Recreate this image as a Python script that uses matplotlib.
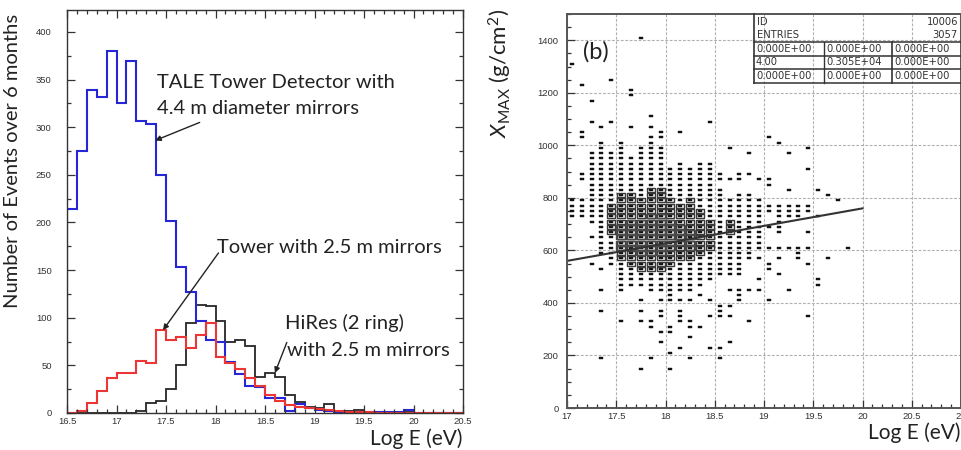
import matplotlib
matplotlib.use('Agg')
import matplotlib.pyplot as plt
import numpy as np
from matplotlib.ticker import MultipleLocator, FuncFormatter
from matplotlib.lines import Line2D

plt.rcParams['font.family'] = ['Lato', 'DejaVu Sans']
plt.rcParams['mathtext.fontset'] = 'custom'
plt.rcParams['mathtext.rm'] = 'Lato'
plt.rcParams['mathtext.it'] = 'Lato:italic'

# ---------------- left panel data (bins of 0.1 in log E from 16.5) ----------------
bin_start = 16.5
bin_width = 0.1
tale_44 = [214, 275, 339, 332, 380, 325, 369, 306, 303, 250, 202, 153, 127, 97, 77, 74,
           54, 41, 28, 27, 16, 16, 2, 9, 5, 3, 2, 1, 1, 1, 1, 1, 1, 1, 3, 0, 0, 0, 0, 0]
tower_25 = [0, 2, 10, 23, 37, 42, 42, 55, 52, 87, 77, 80, 68, 82, 94, 59,
            53, 46, 37, 28, 19, 13, 8, 6, 5, 4, 3, 2, 1, 1, 1, 0, 0, 0, 0, 0, 0, 0, 0, 0]
hires_25 = [0, 0, 0, 0, 0, 0, 0, 2, 10, 13, 25, 50, 94, 113, 112, 97,
            74, 77, 70, 38, 42, 38, 19, 12, 6, 5, 9, 2, 2, 3, 1, 0, 0, 0, 2, 0, 0, 0, 0, 0]

label_tale = ["TALE Tower Detector with", "4.4 m diameter mirrors"]
label_tower = "Tower with 2.5 m mirrors"
label_hires = ["HiRes (2 ring)", "with 2.5 m mirrors"]

# ---------------- right panel data (Xmax vs log E, boxes per 0.1 x 20 g/cm2 cell) ----------------
col_x = [17.05, 17.15, 17.25, 17.35, 17.45, 17.55, 17.65, 17.75, 17.85, 17.95,
         18.05, 18.15, 18.25, 18.35, 18.45, 18.55, 18.65, 18.75, 18.85, 18.95,
         19.05, 19.15, 19.25, 19.35, 19.45, 19.55, 19.65, 19.75, 19.85]
dense_lo = [0, 730, 710, 590, 550, 470, 470, 470, 450, 450,
            450, 450, 470, 470, 490, 510, 510, 510, 570, 610,
            0, 0, 0, 0, 0, 0, 0, 0, 0]
dense_hi = [0, 790, 970, 970, 970, 1010, 950, 990, 1010, 990,
            910, 930, 910, 930, 930, 830, 790, 810, 810, 790,
            0, 0, 0, 0, 0, 0, 0, 0, 0]
box_lo = [0, 0, 0, 0, 670, 570, 550, 530, 530, 530,
          550, 570, 570, 590, 610, 0, 670, 0, 0, 0,
          0, 0, 0, 0, 0, 0, 0, 0, 0]
box_hi = [0, 0, 0, 0, 770, 810, 810, 790, 830, 830,
          790, 770, 790, 750, 710, 0, 710, 0, 0, 0,
          0, 0, 0, 0, 0, 0, 0, 0, 0]
big_lo = [0, 0, 0, 0, 0, 610, 610, 590, 590, 590,
          610, 630, 610, 0, 0, 0, 0, 0, 0, 0,
          0, 0, 0, 0, 0, 0, 0, 0, 0]
big_hi = [0, 0, 0, 0, 0, 690, 710, 710, 730, 730,
          710, 690, 670, 0, 0, 0, 0, 0, 0, 0,
          0, 0, 0, 0, 0, 0, 0, 0, 0]
sparse_y = [
    [1310, 790, 770, 750, 730],
    [1230, 1050, 1030, 890, 870],
    [1170, 1090, 650, 550],
    [1070, 1010, 990, 530, 450, 370, 190],
    [1250, 1090],
    [450, 330],
    [1210, 1190, 1070],
    [1410, 410, 370, 330, 150],
    [1110, 1070, 1030, 330, 310, 190],
    [1050, 1030, 410, 370, 350, 290, 250],
    [430, 410, 310, 290, 210, 150],
    [1050, 410, 370, 350, 330, 230],
    [450, 410, 330, 310, 270, 190],
    [430, 310],
    [1090, 410, 350, 230],
    [890, 870, 390, 370, 350, 230, 190],
    [990, 870, 450, 390, 350, 250],
    [890, 870, 450, 430, 410],
    [970, 890, 450, 330],
    [870, 570, 490, 450],
    [1030, 870, 850, 770, 750, 690, 610, 550, 530, 410],
    [1010, 770, 750, 730, 710, 690, 670, 610, 570, 510],
    [970, 830, 770, 750, 730, 610, 450],
    [770, 750, 730, 610, 590, 570],
    [990, 910, 770, 750, 670, 610, 550, 350],
    [830, 730, 490, 470],
    [810, 570],
    [790],
    [610],
]
cell_h = 20
fit_x = [17.0, 20.0]
fit_y = [560, 760]

stats_top = [("ID", "10006"), ("ENTRIES", "3057")]
stats_table = [["0.000E+00", "0.000E+00", "0.000E+00"],
               ["4.00", "0.305E+04", "0.000E+00"],
               ["0.000E+00", "0.000E+00", "0.000E+00"]]

# ---------------- figure ----------------
W, H = 962, 450
fig = plt.figure(figsize=(W / 100, H / 100), dpi=100)


def fx(px):
    return px / W


def fy(py):
    return 1 - py / H


fmt = FuncFormatter(lambda v, p: '%g' % v)

# ----- left panel -----
ax1 = fig.add_axes([fx(67), fy(413), fx(463) - fx(67), fy(10) - fy(413)])
edges = bin_start + bin_width * np.arange(len(tale_44) + 1)
ax1.stairs(hires_25, edges, color='#262626', lw=1.3, baseline=0)
ax1.stairs(tale_44, edges, color='#2626d6', lw=1.5, baseline=0)
ax1.stairs(tower_25, edges, color='#ec3535', lw=1.5, baseline=0)
ax1.set_xlim(16.5, 20.5)
ax1.set_ylim(0, 423)
ax1.xaxis.set_major_locator(MultipleLocator(0.5))
ax1.xaxis.set_minor_locator(MultipleLocator(0.1))
ax1.yaxis.set_major_locator(MultipleLocator(50))
ax1.yaxis.set_minor_locator(MultipleLocator(25))
ax1.xaxis.set_major_formatter(fmt)
ax1.tick_params(which='both', direction='in', top=True, right=True, colors='#333',
                labelsize=6.8, width=0.9)
ax1.tick_params(which='major', length=6)
ax1.tick_params(which='minor', length=3)
ax1.tick_params(axis='y', pad=11)
ax1.tick_params(axis='x', pad=3)
for lab in ax1.get_xticklabels() + ax1.get_yticklabels():
    lab.set_family('Liberation Sans')
for s in ax1.spines.values():
    s.set_color('#333')
    s.set_linewidth(1.0)

ax1.set_ylabel("Number of Events over 6 months", fontsize=14.5, color='#222')
ax1.yaxis.set_label_coords(-0.115, 0.625)
fig.text(fx(463), fy(439), "Log E (eV)", ha='right', va='center', fontsize=15, color='#222')

arrow = dict(arrowstyle='-|>', color='#222', lw=1.0, mutation_scale=8, shrinkA=0, shrinkB=0)
ax1.text(17.41, 347, label_tale[0], fontsize=14.5, va='center', ha='left', color='#222')
ax1.text(17.41, 320, label_tale[1], fontsize=14.5, va='center', ha='left', color='#222')
ax1.annotate('', xy=(17.39, 286), xytext=(17.84, 305), arrowprops=arrow)
ax1.text(18.02, 174, label_tower, fontsize=14.5, va='center', ha='left', color='#222')
ax1.annotate('', xy=(17.47, 87), xytext=(18.03, 168), arrowprops=arrow)
ax1.text(18.70, 94, label_hires[0], fontsize=14.5, va='center', ha='left', color='#222')
ax1.text(18.72, 66, label_hires[1], fontsize=14.5, va='center', ha='left', color='#222')
ax1.annotate('', xy=(18.60, 42), xytext=(18.72, 74), arrowprops=arrow)

# ----- right panel -----
ax2 = fig.add_axes([fx(567), fy(408), fx(961) - fx(567), fy(14) - fy(408)])
ax2.set_xlim(17, 21)
ax2.set_ylim(0, 1500)
ax2.xaxis.set_major_locator(MultipleLocator(0.5))
ax2.xaxis.set_minor_locator(MultipleLocator(0.1))
ax2.yaxis.set_major_locator(MultipleLocator(200))
ax2.yaxis.set_minor_locator(MultipleLocator(50))
ax2.xaxis.set_major_formatter(fmt)
ax2.grid(True, which='major', color='#b0b0b0', ls=(0, (2.5, 1.5)), lw=0.8)
ax2.set_axisbelow(True)
ax2.tick_params(which='both', direction='in', colors='#333', labelsize=6.8, width=0.9)
ax2.tick_params(which='major', length=6)
ax2.tick_params(which='minor', length=3)
ax2.tick_params(axis='y', pad=6)
ax2.tick_params(axis='x', pad=3)
for lab in ax2.get_xticklabels() + ax2.get_yticklabels():
    lab.set_family('Liberation Sans')
for s in ax2.spines.values():
    s.set_color('#555')
    s.set_linewidth(1.4)

rect_marker = [(-1, -0.6), (1, -0.6), (1, 0.6), (-1, 0.6), (-1, -0.6)]
box_marker = [(-1, -0.45), (1, -0.45), (1, 0.45), (-1, 0.45), (-1, -0.45)]

dx, dy = [], []
bx, by = [], []
gx, gy = [], []
for i, cx in enumerate(col_x):
    if dense_hi[i] > 0:
        for y in range(dense_lo[i], dense_hi[i] + 1, cell_h):
            dx.append(cx)
            dy.append(y)
    if box_hi[i] > 0:
        for y in range(box_lo[i], box_hi[i] + 1, cell_h):
            bx.append(cx)
            by.append(y)
    if big_hi[i] > 0:
        for y in range(big_lo[i], big_hi[i] + 1, cell_h):
            gx.append(cx)
            gy.append(y)
    for y in sparse_y[i]:
        dx.append(cx)
        dy.append(y)

ax2.plot(dx, dy, ls='none', marker=rect_marker, ms=2.4, color='#111', mew=0.3)
ax2.plot(bx, by, ls='none', marker=box_marker, ms=5.4, mfc='none', mec='#3a3a3a', mew=1.0)
ax2.plot(gx, gy, ls='none', marker=box_marker, ms=7.2, mfc='none', mec='#4a4a4a', mew=1.0)
ax2.plot(fit_x, fit_y, color='#333', lw=1.5)

ax2.set_ylabel(r'$X_{\mathrm{MAX}}\ \mathrm{(g/cm^{2})}$', fontsize=16, color='#222')
ax2.yaxis.set_label_coords(-0.135, 0.85)
ax2.text(0.04, 0.905, "(b)", transform=ax2.transAxes, fontsize=17, color='#222',
         ha='left', va='center')
fig.text(fx(961), fy(433), "Log E (eV)", ha='right', va='center', fontsize=15, color='#222')


# stats box
def hline(x0, x1, y, lw=1.0):
    fig.add_artist(Line2D([fx(x0), fx(x1)], [fy(y), fy(y)], color='#333', lw=lw))


def vline(x, y0, y1, lw=1.0):
    fig.add_artist(Line2D([fx(x), fx(x)], [fy(y0), fy(y1)], color='#333', lw=lw))


vline(754, 14, 82.7, lw=1.2)
for yy in [42.3, 55.7, 69.0, 82.7]:
    hline(754, 961, yy, lw=1.1)
vline(824, 42.3, 82.7)
vline(892, 42.3, 82.7, lw=1.2)
sfont = dict(fontsize=7.2, family='DejaVu Sans', color='#333', va='center')
for k, (a, b) in enumerate(stats_top):
    yy = 21.7 + 13.4 * k
    fig.text(fx(757), fy(yy), a, ha='left', **sfont)
    fig.text(fx(958), fy(yy), b, ha='right', **sfont)
col_left = [756, 826, 894]
for r, row in enumerate(stats_table):
    yy = 49.0 + 13.4 * r
    for c, val in enumerate(row):
        fig.text(fx(col_left[c]), fy(yy), val, ha='left', **sfont)

fig.savefig('out.png', dpi=100)
